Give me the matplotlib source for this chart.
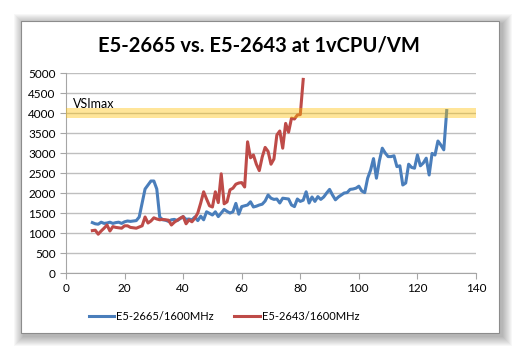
import numpy as np
import matplotlib
matplotlib.use("Agg")
import matplotlib.pyplot as plt
from matplotlib.patches import Rectangle

# E5-2665 / 1600MHz (blue)
x_2665 = list(range(9, 131))
y_2665 = [1260, 1230, 1220, 1270, 1240, 1250, 1270, 1240, 1260, 1270,
          1240, 1280, 1300, 1290, 1300, 1310, 1400, 1750, 2100, 2200,
          2300, 2300, 2100, 1400, 1330, 1320, 1290, 1330, 1340, 1310,
          1360, 1410, 1340, 1350, 1330, 1400, 1310, 1420, 1330, 1530,
          1490, 1450, 1530, 1410, 1500, 1590, 1540, 1500, 1530, 1740,
          1470, 1660, 1680, 1700, 1780, 1650, 1670, 1700, 1720, 1800,
          1950, 1870, 1840, 1850, 1750, 1870, 1860, 1850, 1700, 1660,
          1850, 1790, 1820, 2030, 1750, 1900, 1790, 1910, 1840, 1900,
          2000, 2090, 1950, 1830, 1900, 1950, 2000, 2010, 2090, 2100,
          2120, 2170, 2050, 2010, 2370, 2570, 2860, 2370, 2800, 3120,
          3000, 2910, 2910, 2930, 2660, 2680, 2200, 2250, 2720, 2640,
          2620, 2950, 2680, 2750, 2870, 2450, 2990, 2950, 3300, 3200,
          3080, 4060]

# E5-2643 / 1600MHz (red)
x_2643 = list(range(9, 82))
y_2643 = [1060, 1070, 970, 1050, 1120, 1200, 1050, 1160, 1140, 1130,
          1120, 1180, 1180, 1140, 1130, 1120, 1150, 1180, 1400, 1250,
          1300, 1380, 1350, 1330, 1340, 1330, 1320, 1200, 1270, 1320,
          1370, 1410, 1230, 1330, 1280, 1370, 1500, 1750, 2030, 1850,
          1680, 1650, 2030, 1760, 2480, 1730, 1780, 2080, 2120, 2220,
          2250, 2260, 2150, 3280, 2880, 2950, 2720, 2560, 2900, 3140,
          3040, 2720, 2850, 3450, 3550, 3120, 3740, 3520, 3870, 3850,
          3950, 3960, 4840]

vsimax_low, vsimax_high = 3880, 4120

blue = '#4a7ebb'
red = '#be4b48'
grey = '#bfbfbf'
plt.rcParams['font.family'] = ['Lato', 'DejaVu Sans']

fig = plt.figure(figsize=(5.2, 3.55), dpi=100)
W, H = 520, 355

# chart frame with soft shadow
for i in range(10, 0, -1):
    fig.patches.append(Rectangle(((21 - i + 3) / W, 1 - (333 + i + 3) / H),
                                 (478 + 2 * i) / W, (312 + 2 * i) / H,
                                 transform=fig.transFigure, color='black',
                                 alpha=0.03, lw=0, zorder=0))
fig.patches.append(Rectangle((21 / W, 1 - 333 / H), 478 / W, 312 / H,
                             transform=fig.transFigure, facecolor='white',
                             edgecolor='#8c8c8c', lw=0.8, zorder=1))

ax = fig.add_axes([66 / W, 1 - 273 / H, 410 / W, 200 / H])
ax.set_zorder(2)
ax.patch.set_alpha(0)

ax.plot(x_2665, y_2665, color=blue, lw=2.2, label='E5-2665/1600MHz', zorder=2)
ax.plot(x_2643, y_2643, color=red, lw=2.2, label='E5-2643/1600MHz', zorder=2)
ax.axhspan(vsimax_low, vsimax_high, color='#ffc000', alpha=0.4, lw=0, zorder=3)
ax.text(2.3, 4230, 'VSImax', fontsize=9, va='center', ha='left', zorder=4)

ax.set_xlim(0, 140)
ax.set_ylim(0, 5000)
ax.set_xticks(range(0, 141, 20))
ax.set_yticks(range(0, 5001, 500))
ax.grid(axis='y', color=grey, lw=1.0)
ax.set_axisbelow(True)
for s in ['top', 'right']:
    ax.spines[s].set_visible(False)
for s in ['left', 'bottom']:
    ax.spines[s].set_color('#a6a6a6')
ax.tick_params(colors='#a6a6a6', labelcolor='black', labelsize=8.5, length=4)

fig.text(259 / W, 1 - 45 / H, 'E5-2665 vs. E5-2643 at 1vCPU/VM',
         ha='center', va='center', fontsize=14.5, fontweight='bold', zorder=3)

ax.legend(loc='center', bbox_to_anchor=(158 / 410, -43 / 200), ncol=2,
          frameon=False, fontsize=8.0, handlelength=2.3, handletextpad=0.2,
          columnspacing=1.8)

fig.savefig('out.png', dpi=100)
